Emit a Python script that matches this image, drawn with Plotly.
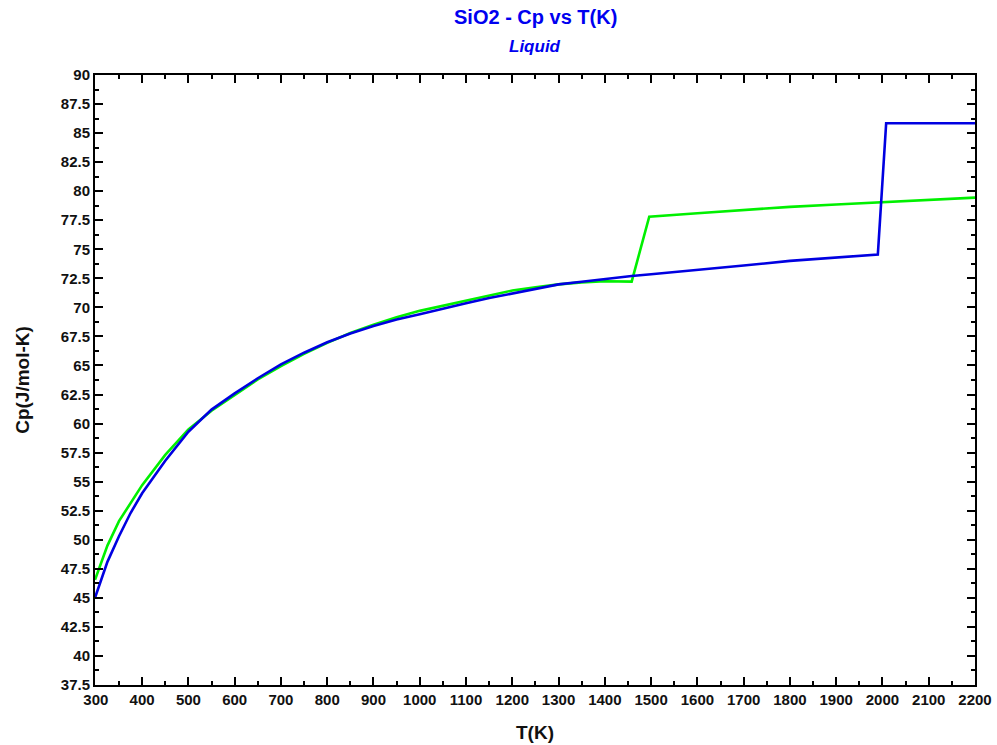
import plotly.graph_objects as go

# Heat capacity of SiO2 (J/mol-K) versus temperature (K)
t_blue = [298.15, 325, 350, 375, 400, 450, 500, 550, 600, 650, 700, 750, 800,
          850, 900, 950, 1000, 1050, 1100, 1150, 1200, 1250, 1300, 1350, 1400,
          1458, 1500, 1600, 1700, 1800, 1900, 1990, 2008, 2100, 2200]
cp_blue = [45.0, 48.1, 50.3, 52.3, 54.0, 56.8, 59.3, 61.2, 62.6, 63.9, 65.1,
           66.1, 67.0, 67.75, 68.4, 68.95, 69.4, 69.9, 70.35, 70.8, 71.2, 71.6,
           71.98, 72.2, 72.45, 72.7, 72.85, 73.2, 73.6, 74.0, 74.3, 74.55,
           85.85, 85.85, 85.85]

t_green = [298.15, 325, 350, 375, 400, 450, 500, 550, 600, 650, 700, 750, 800,
           850, 900, 950, 1000, 1050, 1100, 1150, 1200, 1250, 1300, 1350, 1400,
           1458, 1496, 1600, 1700, 1800, 1900, 2000, 2100, 2200]
cp_green = [46.55, 49.5, 51.6, 53.2, 54.7, 57.3, 59.5, 61.1, 62.45, 63.8, 64.95,
            66.0, 66.95, 67.8, 68.5, 69.15, 69.7, 70.15, 70.6, 71.05, 71.45, 71.72,
            71.98, 72.15, 72.25, 72.22, 77.8, 78.1, 78.4, 78.65, 78.85, 79.05,
            79.25, 79.45]

x_ticks = list(range(300, 2201, 100))
y_ticks = [37.5 + 2.5 * i for i in range(22)]
y_labels = [("%g" % v) for v in y_ticks]

FONT = "Liberation Sans, Arial, sans-serif"

fig = go.Figure()
fig.add_trace(go.Scatter(x=t_green, y=cp_green, mode="lines",
                         line=dict(color="rgb(0,240,0)", width=2.6),
                         showlegend=False))
fig.add_trace(go.Scatter(x=t_blue, y=cp_blue, mode="lines",
                         line=dict(color="rgb(0,0,225)", width=2.6),
                         showlegend=False))

axis_common = dict(
    showgrid=False, zeroline=False, showline=True, linecolor="black",
    linewidth=2, mirror="allticks", ticks="inside", ticklen=8, tickwidth=2,
    tickcolor="black", automargin=False,
    tickfont=dict(family=FONT, size=15, color="#111", weight="bold"),
)

fig.update_xaxes(
    range=[298.15, 2200], tickvals=x_ticks,
    minor=dict(ticks="inside", ticklen=4, tickwidth=1.5, dtick=50, tick0=0,
               tickcolor="black"),
    title=dict(text="<b>T(K)</b>", font=dict(family=FONT, size=19, color="#111"),
               standoff=19),
    **axis_common,
)
fig.update_yaxes(
    range=[37.5, 90], tickvals=y_ticks, ticktext=y_labels,
    minor=dict(ticks="inside", ticklen=4, tickwidth=1.5, dtick=1.25, tick0=0,
               tickcolor="black"),
    title=dict(text="<b>Cp(J/mol-K)</b>", font=dict(family=FONT, size=19, color="#111"),
               standoff=26),
    **axis_common,
)

fig.update_layout(
    width=997, height=745,
    margin=dict(l=95, r=22, t=75, b=60),
    plot_bgcolor="white", paper_bgcolor="white",
    annotations=[
        dict(text="<b>SiO2 - Cp vs T(K)</b>", xref="paper", yref="paper",
             x=0.5, y=1.095, xanchor="center", yanchor="middle", showarrow=False,
             font=dict(family=FONT, size=20, color="rgb(0,0,240)")),
        dict(text="<b><i>Liquid</i></b>", xref="paper", yref="paper",
             x=0.5, y=1.0475, xanchor="center", yanchor="middle", showarrow=False,
             font=dict(family=FONT, size=17, color="rgb(0,0,240)")),
    ],
)

fig.write_html("out.html")
